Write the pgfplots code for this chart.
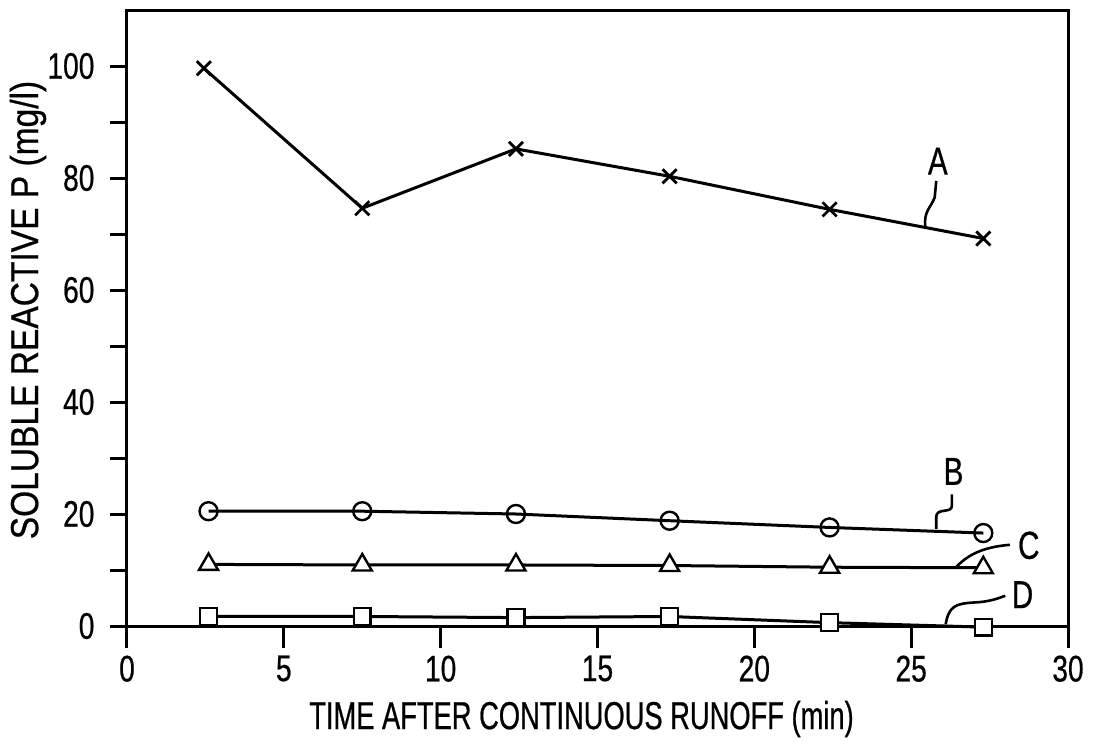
\documentclass[border=0pt]{standalone}
\usepackage{fontspec}
\setmainfont{Liberation Sans}[FakeStretch=0.76, FakeBold=0.6]
\newfontfamily\ylabfont{Liberation Sans}[FakeStretch=0.86, FakeBold=0.6]
\newfontfamily\xlabfont{Liberation Sans}[FakeStretch=0.70, FakeBold=0.6]
\usepackage{pgfplots}
\pgfplotsset{compat=1.18}
\newcommand{\bigf}{\fontsize{18.5}{18.5}\selectfont}
\newcommand{\labf}{\fontsize{19.5}{19.5}\selectfont}
\begin{document}
\begin{tikzpicture}
\useasboundingbox (-63.5pt,-60pt) rectangle (483pt,313pt);
\begin{axis}[
  scale only axis,
  width=470.5pt, height=308pt,
  xmin=0, xmax=30, ymin=0, ymax=110,
  xtick={0,5,...,30},
  ytick={0,10,...,100},
  yticklabels={0,,20,,40,,60,,80,,100},
  tick align=outside,
  tick pos=left,
  axis line style={line width=1.5pt},
  every tick/.style={black, line width=1.5pt},
  ytick style={/pgfplots/major tick length=8.5pt},
  xtick style={/pgfplots/major tick length=11pt},
  /pgf/number format/assume math mode=true,
  tick label style={font=\bigf},
  yticklabel style={xshift=-8.5pt},
  xticklabel style={yshift=-7pt},
  xlabel={TIME AFTER CONTINUOUS RUNOFF (min)},
  ylabel={SOLUBLE REACTIVE P (mg/l)},
  every axis x label/.style={at={(rel axis cs:0.5,0)}, font=\xlabfont\labf, xshift=-8pt, yshift=-46.5pt, anchor=center},
  every axis y label/.style={at={(rel axis cs:0,0.5)}, font=\ylabfont\labf, xshift=-49.5pt, yshift=4pt, rotate=90, anchor=center},
  clip=false,
]
\addplot[black, line width=1.5pt, mark=x, mark size=5pt, mark options={line width=1.4pt}] coordinates {
 (2.45,99.6) (7.5,74.6) (12.4,85.2) (17.3,80.3) (22.4,74.4) (27.3,69.2)};
\addplot[black, line width=1.5pt, mark=o, mark size=4.5pt, mark options={fill=white, line width=1.2pt}] coordinates {
 (2.6,20.5) (7.5,20.5) (12.4,20.0) (17.3,18.8) (22.4,17.6) (27.3,16.6)};
\addplot[black, line width=1.5pt, mark=triangle*, mark size=5.5pt, mark options={fill=white, line width=1.2pt}] coordinates {
 (2.6,11.0) (7.5,10.9) (12.4,10.9) (17.3,10.8) (22.4,10.5) (27.3,10.4)};
\addplot[black, line width=1.5pt, mark=square*, mark size=4.2pt, mark options={fill=white, line width=1.2pt}] coordinates {
 (2.6,1.7) (7.5,1.7) (12.4,1.5) (17.3,1.7) (22.4,0.6) (27.3,-0.2)};
% leaders
\draw[line width=1.3pt] (axis cs:25.45,71.3) .. controls (axis cs:25.4,74) and (axis cs:25.6,74.5) .. (axis cs:25.75,76.5) -- (axis cs:25.8,79.5);
\node[font=\labf] at (axis cs:25.85,83) {A};
\draw[line width=1.3pt] (axis cs:25.8,17.3) -- (axis cs:25.8,19.5) .. controls (axis cs:25.8,21.2) and (axis cs:26.3,20) .. (axis cs:26.3,21.5) -- (axis cs:26.3,23.5);
\node[font=\labf] at (axis cs:26.35,27.6) {B};
\draw[line width=1.3pt] (axis cs:26.45,10.6) .. controls (axis cs:26.9,13.3) and (axis cs:27.5,14.2) .. (axis cs:28.15,14.5);
\node[font=\labf] at (axis cs:28.75,14.4) {C};
\draw[line width=1.3pt] (axis cs:26.1,0.3) .. controls (axis cs:26.2,3.5) and (axis cs:26.4,4.0) .. (axis cs:27.0,4.2) .. controls (axis cs:27.5,4.3) and (axis cs:27.8,5) .. (axis cs:28.0,5.4);
\node[font=\labf] at (axis cs:28.55,5.6) {D};
\end{axis}
\end{tikzpicture}
\end{document}
